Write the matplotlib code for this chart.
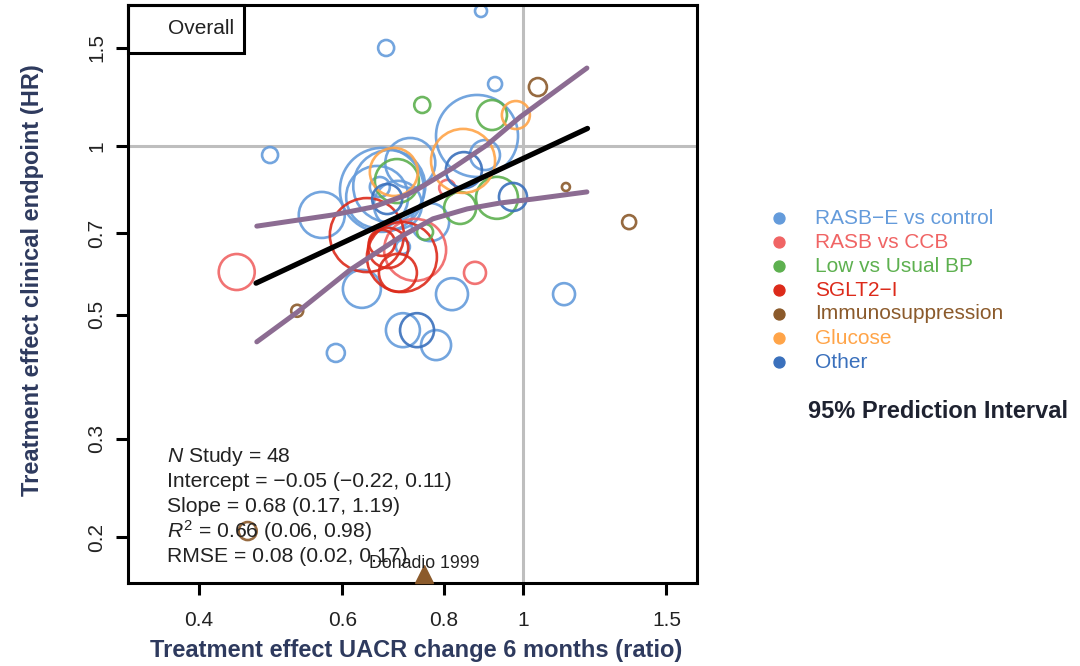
import matplotlib
matplotlib.use("Agg")
import matplotlib.pyplot as plt
from matplotlib.patches import Rectangle
import math

plt.rcParams['font.family'] = ['Liberation Sans', 'DejaVu Sans']
plt.rcParams['mathtext.fontset'] = 'custom'
plt.rcParams['mathtext.rm'] = 'Liberation Sans'
plt.rcParams['mathtext.it'] = 'Liberation Sans:italic'

# ---------------- data ----------------
groups = ["RASB\u2212E vs control", "RASB vs CCB", "Low vs Usual BP", "SGLT2\u2212I",
          "Immunosuppression", "Glucose", "Other"]
group_colors = ["#649BDB", "#F06464", "#5DB04F", "#DC2A1A", "#8B5A2B", "#FFA448", "#3A70BC"]

# treatment effect on UACR (ratio), on clinical endpoint (HR), study weight, group index
uacr = [0.888, 0.679, 0.924, 0.489, 0.878, 0.671, 0.685, 0.662, 0.727, 0.702,
        0.566, 0.634, 0.818, 1.123, 0.712, 0.782, 0.589, 0.712, 0.898, 0.769, 0.667,
        0.445, 0.873, 0.737, 0.807,
        0.643, 0.710, 0.702, 0.683, 0.671,
        0.752, 0.916, 0.929, 0.837, 0.700, 0.758,
        1.043, 1.129, 1.350, 0.528, 0.459,
        0.980, 0.844, 0.694,
        0.741, 0.972, 0.846, 0.681]
hr = [1.747, 1.500, 1.293, 0.965, 1.044, 0.836, 0.849, 0.812, 0.934, 0.786,
      0.754, 0.556, 0.544, 0.544, 0.469, 0.441, 0.427, 0.661, 0.965, 0.732, 0.846,
      0.596, 0.594, 0.653, 0.843,
      0.694, 0.634, 0.594, 0.658, 0.672,
      1.186, 1.138, 0.809, 0.776, 0.867, 0.703,
      1.277, 0.846, 0.732, 0.508, 0.205,
      1.138, 0.942, 0.900,
      0.469, 0.812, 0.907, 0.805]
weight = [6, 8, 7, 8, 41, 42, 36, 31, 25, 24,
          23, 19, 16, 11, 17, 15, 9, 7, 15, 19, 10,
          18, 11, 31, 8,
          37, 35, 19, 20, 13,
          8, 15, 21, 16, 22, 8,
          9, 4, 7, 6, 9,
          14, 32, 24,
          17, 14, 18, 15]
group = [0]*21 + [1]*4 + [3]*5 + [2]*6 + [4]*5 + [5]*3 + [6]*4

# study outside the plotted range
outlier_x = [0.756]
outlier_y = [0.172]
outlier_label = ["Donadio 1999"]

# regression line (log-log): intercept -0.05, slope 0.68
reg_x = [0.47, 1.20]
reg_intercept = -0.05
reg_slope = 0.68

# 95% prediction interval
pi_up_x = [0.471, 0.584, 0.654, 0.720, 0.747, 0.820, 0.903, 0.992, 1.198]
pi_up_y = [0.720, 0.754, 0.779, 0.819, 0.843, 0.915, 1.006, 1.129, 1.381]
pi_lo_x = [0.471, 0.528, 0.613, 0.706, 0.775, 0.854, 0.937, 1.029, 1.198]
pi_lo_y = [0.447, 0.505, 0.601, 0.688, 0.742, 0.773, 0.792, 0.805, 0.829]

stats_lines = ["$\\it{N}$ Study = 48",
               "Intercept = \u22120.05 (\u22120.22, 0.11)",
               "Slope = 0.68 (0.17, 1.19)",
               "$\\it{R}^2$ = 0.66 (0.06, 0.98)",
               "RMSE = 0.08 (0.02, 0.17)"]

xticks = [0.4, 0.6, 0.8, 1, 1.5]
xticklabels = ["0.4", "0.6", "0.8", "1", "1.5"]
yticks = [0.2, 0.3, 0.5, 0.7, 1, 1.5]
yticklabels = ["0.2", "0.3", "0.5", "0.7", "1", "1.5"]

# ---------------- plot ----------------
W, H = 1080, 666
fig = plt.figure(figsize=(W/100, H/100), dpi=100)
ax = fig.add_axes([128/W, 1-583/H, (697-128)/W, (583-5)/H])
ax.set_xscale('log')
ax.set_yscale('log')
ax.set_xlim(0.3272, 1.6357)
ax.set_ylim(0.1655, 1.7907)

ax.axvline(1, color="#BEBEBE", lw=2.2, zorder=1)
ax.axhline(1, color="#BEBEBE", lw=2.2, zorder=1)

for xi, yi, wi, gi in zip(uacr, hr, weight, group):
    ax.scatter([xi], [yi], s=(1.44*wi)**2, facecolors='none',
               edgecolors=group_colors[gi], linewidths=1.9, alpha=0.9, zorder=2)

ax.plot(pi_up_x, pi_up_y, color="#8C6C92", lw=3.6, solid_capstyle='round',
        solid_joinstyle='round', zorder=3)
ax.plot(pi_lo_x, pi_lo_y, color="#8C6C92", lw=3.6, solid_capstyle='round',
        solid_joinstyle='round', zorder=3)

reg_y = [math.exp(reg_intercept + reg_slope*math.log(v)) for v in reg_x]
ax.plot(reg_x, reg_y, color="black", lw=3.8, solid_capstyle='round', zorder=4)

ax.plot(outlier_x, outlier_y, marker='^', ms=13, color="#8B5A2B", ls='none',
        clip_on=False, zorder=5)
ax.text(outlier_x[0], 0.1795, outlier_label[0], ha='center', va='center',
        fontsize=12.8, color="#222222", zorder=6)

for sp in ax.spines.values():
    sp.set_linewidth(2.2)

ax.set_xticks(xticks)
ax.set_xticklabels(xticklabels)
ax.set_yticks(yticks)
ax.set_yticklabels(yticklabels, rotation=90, va='center')
ax.minorticks_off()
ax.tick_params(axis='both', direction='out', length=8.5, width=2.2,
               labelsize=15, colors='black', labelcolor='#222222')
ax.tick_params(axis='x', pad=12)
ax.tick_params(axis='y', pad=7)

ax.set_xlabel("Treatment effect UACR change 6 months (ratio)", fontsize=17,
              fontweight='bold', color="#2E3A5E", va='center')
ax.xaxis.set_label_coords(0.507, -(651-583)/578)
ax.set_ylabel("Treatment effect clinical endpoint (HR)", fontsize=17,
              fontweight='bold', color="#2E3A5E", va='center')
ax.yaxis.set_label_coords((33-128)/569, 0.524)

# Overall box
ax.add_patch(Rectangle((0, 1-48/578), 116/569, 48/578, transform=ax.transAxes,
                       fill=False, lw=2.2, ec='black', zorder=6, clip_on=False))
ax.text(106/569, 1-24/578, "Overall", transform=ax.transAxes, ha='right',
        va='center', fontsize=15, color="#222222", zorder=7)

# stats text
for i, line in enumerate(stats_lines):
    fig.text(167/W, 1-(457+24.8*i)/H, line, ha='left', va='center',
             fontsize=15.2, color="#222222")

# legend
for i, (g, c) in enumerate(zip(groups, group_colors)):
    yy = 1-(218+24*i)/H
    ax.scatter([779/W], [yy], s=62, color=c, transform=fig.transFigure,
               clip_on=False, zorder=8)
    fig.text(815/W, yy, g, ha='left', va='center', fontsize=15, color=c)
fig.text(808/W, 1-411/H, "95% Prediction Interval", ha='left', va='center',
         fontsize=17, fontweight='bold', color="#1E2230")

fig.savefig("out.png", dpi=100)
